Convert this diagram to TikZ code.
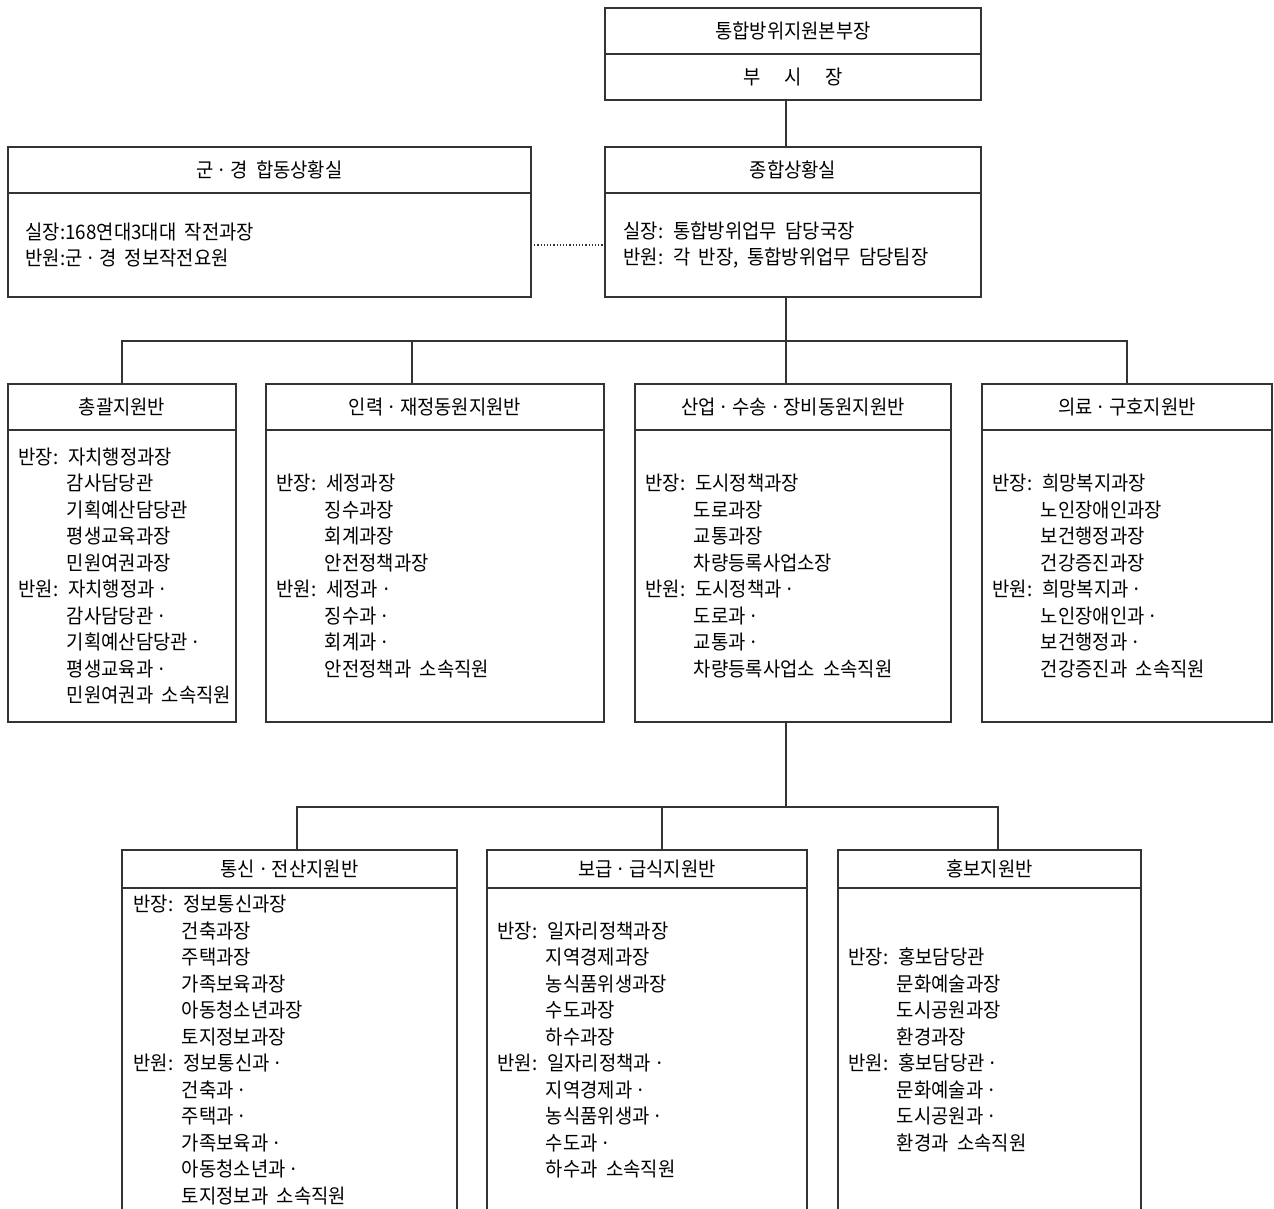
\documentclass[tikz,border=0pt]{standalone}
\usepackage{fontspec}
\setmainfont{Noto Sans CJK KR}[FakeStretch=0.94, WordSpace=2]
\usetikzlibrary{positioning}
\tikzset{
    titlebox/.style={draw, minimum height=46pt, inner sep=0pt, outer sep=0pt},
    bodybox/.style={draw, inner sep=0pt, outer sep=0pt},
    bodytext/.style={align=left, inner sep=0pt, anchor=west},
    link/.style={draw, line width=1.2pt}
}
\newcommand{\mdot}{\hspace{3pt}·\hspace{3pt}}
\newcommand{\idt}{\phantom{반장:\ }}

\begin{document}
\begin{tikzpicture}[x=1pt, y=-1pt, line width=1.2pt, draw=black!80,
    font=\fontsize{20pt}{26.5pt}\selectfont]
\clip (0,0) rectangle (1274,1209);
% top
\node[titlebox, minimum width=376pt] (hq) at (793,31) {통합방위지원본부장};
\node[titlebox, minimum width=376pt, below=0pt of hq] (dep) {부\hspace{24pt}시\hspace{24pt}장};
\coordinate (trunk) at (786,0);
% situation rooms
\node[titlebox, minimum width=376pt] (ops) at (793,170) {종합상황실};
\node[bodybox, minimum width=376pt, minimum height=104pt, below=0pt of ops] (opsb) {};
\node[bodytext] (opst) at (623,245) {실장: 통합방위업무 담당국장\\반원: 각 반장, 통합방위업무 담당팀장};
\node[titlebox, minimum width=523pt] (mil) at (269.5,170) {군\mdot 경 합동상황실};
\node[bodybox, minimum width=523pt, minimum height=104pt, below=0pt of mil] (milb) {};
\node[bodytext] (milt) at (25,245) {실장:168연대3대대 작전과장\\반원:군\mdot 경 정보작전요원};
% second row
\node[titlebox, minimum width=228pt] (gen) at (122,407) {총괄지원반};
\node[bodybox, minimum width=228pt, minimum height=292pt, below=0pt of gen] (genb) {};
\node[bodytext] (gent) at (18,576) {반장: 자치행정과장\\ \idt 감사담당관\\ \idt 기획예산담당관\\ \idt 평생교육과장\\ \idt 민원여권과장\\
    반원: 자치행정과\mdot\\ \idt 감사담당관\mdot\\ \idt 기획예산담당관\mdot\\ \idt 평생교육과\mdot\\ \idt 민원여권과 소속직원};
\node[titlebox, minimum width=338pt] (man) at (435,407) {인력\mdot 재정동원지원반};
\node[bodybox, minimum width=338pt, minimum height=292pt, below=0pt of man] (manb) {};
\node[bodytext] (mant) at (276,576) {반장: 세정과장\\ \idt 징수과장\\ \idt 회계과장\\ \idt 안전정책과장\\
    반원: 세정과\mdot\\ \idt 징수과\mdot\\ \idt 회계과\mdot\\ \idt 안전정책과 소속직원};
\node[titlebox, minimum width=316pt] (ind) at (793,407) {산업\mdot 수송\mdot 장비동원지원반};
\node[bodybox, minimum width=316pt, minimum height=292pt, below=0pt of ind] (indb) {};
\node[bodytext] (indt) at (645,576) {반장: 도시정책과장\\ \idt 도로과장\\ \idt 교통과장\\ \idt 차량등록사업소장\\
    반원: 도시정책과\mdot\\ \idt 도로과\mdot\\ \idt 교통과\mdot\\ \idt 차량등록사업소 소속직원};
\node[titlebox, minimum width=290pt] (med) at (1127,407) {의료\mdot 구호지원반};
\node[bodybox, minimum width=290pt, minimum height=292pt, below=0pt of med] (medb) {};
\node[bodytext] (medt) at (992,576) {반장: 희망복지과장\\ \idt 노인장애인과장\\ \idt 보건행정과장\\ \idt 건강증진과장\\
    반원: 희망복지과\mdot\\ \idt 노인장애인과\mdot\\ \idt 보건행정과\mdot\\ \idt 건강증진과 소속직원};
% third row
\node[titlebox, minimum width=335pt, minimum height=38pt] (com) at (289.5,869) {통신\mdot 전산지원반};
\node[bodybox, minimum width=335pt, minimum height=324pt, below=0pt of com] (comb) {};
\node[bodytext] (comt) at (133,1050) {반장: 정보통신과장\\ \idt 건축과장\\ \idt 주택과장\\ \idt 가족보육과장\\ \idt 아동청소년과장\\ \idt 토지정보과장\\
    반원: 정보통신과\mdot\\ \idt 건축과\mdot\\ \idt 주택과\mdot\\ \idt 가족보육과\mdot\\ \idt 아동청소년과\mdot\\ \idt 토지정보과 소속직원};
\node[titlebox, minimum width=320pt, minimum height=38pt] (sup) at (647,869) {보급\mdot 급식지원반};
\node[bodybox, minimum width=320pt, minimum height=324pt, below=0pt of sup] (supb) {};
\node[bodytext] (supt) at (497,1050) {반장: 일자리정책과장\\ \idt 지역경제과장\\ \idt 농식품위생과장\\ \idt 수도과장\\ \idt 하수과장\\
    반원: 일자리정책과\mdot\\ \idt 지역경제과\mdot\\ \idt 농식품위생과\mdot\\ \idt 수도과\mdot\\ \idt 하수과 소속직원};
\node[titlebox, minimum width=303pt, minimum height=38pt] (pr) at (989.5,869) {홍보지원반};
\node[bodybox, minimum width=303pt, minimum height=324pt, below=0pt of pr] (prb) {};
\node[bodytext] (prt) at (848,1050) {반장: 홍보담당관\\ \idt 문화예술과장\\ \idt 도시공원과장\\ \idt 환경과장\\
    반원: 홍보담당관\mdot\\ \idt 문화예술과\mdot\\ \idt 도시공원과\mdot\\ \idt 환경과 소속직원};
% connectors
\coordinate (bus1) at (0,341);
\coordinate (bus2) at (0,807);
\draw[link] (dep.south -| trunk) -- (ops.north -| trunk);
\draw[link, dotted] (milb.east) -- (opsb.west);
\draw[link] (opsb.south -| trunk) -- (bus1 -| trunk);
\draw[link] (gen.north) |- (bus1 -| med.north) -- (med.north);
\draw[link] (bus1 -| 412,0) -- (man.north -| 412,0);
\draw[link] (bus1 -| trunk) -- (ind.north -| trunk);
\draw[link] (indb.south -| trunk) -- (bus2 -| trunk);
\draw[link] (com.north -| 297,0) |- (bus2 -| 998,0) -- (pr.north -| 998,0);
\draw[link] (bus2 -| 662,0) -- (sup.north -| 662,0);
\end{tikzpicture}
\end{document}
